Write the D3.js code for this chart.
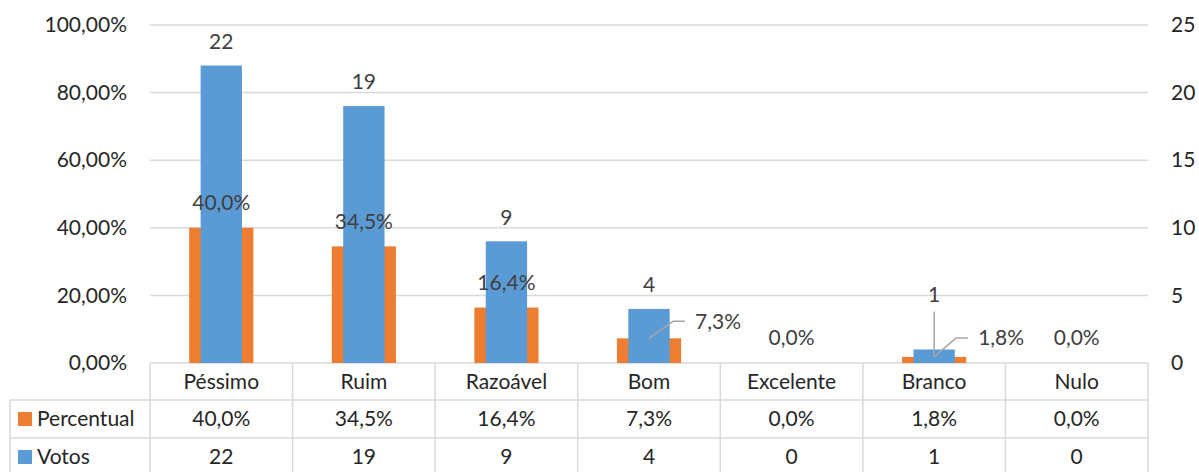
<!DOCTYPE html>
<html>
<head>
<meta charset="utf-8">
<script src="https://cdn.jsdelivr.net/npm/d3@7"></script>
<style>
  body { margin: 0; background: #fff; }
  text { font-family: Lato, "Open Sans", sans-serif; }
</style>
</head>
<body>
<div id="chart"></div>
<script>
// data
var categories = ['Péssimo', 'Ruim', 'Razoável', 'Bom', 'Excelente', 'Branco', 'Nulo'];
var percentual = [40.0, 34.5, 16.4, 7.3, 0.0, 1.8, 0.0];
var votos = [22, 19, 9, 4, 0, 1, 0];
var leftTicks = [0, 20, 40, 60, 80, 100];
var rightTicks = [0, 5, 10, 15, 20, 25];

var width = 1199, height = 472;
var margin = {top: 25, left: 150, right: 51, bottom: 109};
var plotRight = width - margin.right;
var plotBottom = height - margin.bottom;

var orange = '#ED7D31', blue = '#5B9BD5', grid = '#D9D9D9';
var fs = 21;

// label nudges for the small bars (Excel moved these with leader lines)
var pctLabelMove = {Bom: [46, -17], Branco: [44, -19]};
var votLabelMove = {Branco: [0, -31]};

var rows = categories.map(function(c, i) {
    return {cat: c, pct: percentual[i], vot: votos[i]};
});

var svg = d3.select('#chart').append('svg')
    .attr('width', width)
    .attr('height', height);

var x = d3.scaleBand().domain(categories).range([margin.left, plotRight]);
var yPct = d3.scaleLinear().domain([0, 100]).range([plotBottom, margin.top]);
var yVot = d3.scaleLinear().domain([0, 25]).range([plotBottom, margin.top]);

// gridlines
svg.append('g').selectAll('line').data(leftTicks).enter().append('line')
    .attr('x1', margin.left).attr('x2', plotRight)
    .attr('y1', function(d) { return yPct(d); })
    .attr('y2', function(d) { return yPct(d); })
    .attr('stroke', grid).attr('stroke-width', 1.5);

// left axis
var leftAxis = d3.axisLeft(yPct).tickValues(leftTicks).tickSize(0).tickPadding(0)
    .tickFormat(function(d) { return d3.format('.2f')(d).replace('.', ',') + '%'; });
var gL = svg.append('g').attr('transform', 'translate(127,0)').call(leftAxis);
gL.select('.domain').remove();
gL.selectAll('text').attr('font-size', fs).attr('fill', '#262626')
    .attr('font-family', 'Lato, sans-serif');

// right axis
var rightAxis = d3.axisRight(yVot).tickValues(rightTicks).tickSize(0).tickPadding(0);
var gR = svg.append('g').attr('transform', 'translate(1171,0)').call(rightAxis);
gR.select('.domain').remove();
gR.selectAll('text').attr('font-size', fs).attr('fill', '#262626')
    .attr('font-family', 'Lato, sans-serif');

var bw = x.bandwidth();
var oW = bw * 0.45, bW = bw * 0.29;
function mid(d) { return x(d.cat) + bw / 2; }

// percentual bars (behind)
svg.append('g').selectAll('rect').data(rows).enter().append('rect')
    .attr('x', function(d) { return mid(d) - oW / 2; })
    .attr('y', function(d) { return yPct(d.pct); })
    .attr('width', oW)
    .attr('height', function(d) { return plotBottom - yPct(d.pct); })
    .attr('fill', orange);

// votos bars
svg.append('g').selectAll('rect').data(rows).enter().append('rect')
    .attr('x', function(d) { return mid(d) - bW / 2; })
    .attr('y', function(d) { return yVot(d.vot); })
    .attr('width', bW)
    .attr('height', function(d) { return plotBottom - yVot(d.vot); })
    .attr('fill', blue);

// leader lines
var lead = svg.append('g').attr('stroke', '#A6A6A6').attr('stroke-width', 1.5).attr('fill', 'none');
rows.forEach(function(d) {
    var cx = mid(d);
    if (pctLabelMove[d.cat]) {
        var m = pctLabelMove[d.cat], y0 = yPct(d.pct);
        lead.append('path')
            .attr('d', 'M' + cx + ',' + y0 + 'L' + (cx + m[0] - 22) + ',' + (y0 + m[1]) +
                  'L' + (cx + m[0] - 10) + ',' + (y0 + m[1]));
    }
    if (votLabelMove[d.cat]) {
        var yv = yVot(d.vot);
        lead.append('line').attr('x1', cx).attr('x2', cx)
            .attr('y1', yv - 24 + votLabelMove[d.cat][1] + 17).attr('y2', yPct(d.pct));
    }
});

// percent labels
svg.append('g').selectAll('text').data(rows).enter().append('text')
    .attr('x', function(d) {
        var m = pctLabelMove[d.cat];
        return mid(d) + (m ? m[0] : 0);
    })
    .attr('y', function(d) {
        var m = pctLabelMove[d.cat];
        return m ? yPct(d.pct) + m[1] : yPct(d.pct) - 25;
    })
    .attr('dy', '0.35em')
    .attr('text-anchor', function(d) { return pctLabelMove[d.cat] ? 'start' : 'middle'; })
    .attr('font-size', fs).attr('fill', '#404040')
    .text(function(d) { return d.pct.toFixed(1).replace('.', ',') + '%'; });

// votos labels (zero values have none)
svg.append('g').selectAll('text').data(rows.filter(function(d) { return d.vot > 0; }))
    .enter().append('text')
    .attr('x', mid)
    .attr('y', function(d) {
        var m = votLabelMove[d.cat];
        return yVot(d.vot) - 24 + (m ? m[1] : 0);
    })
    .attr('dy', '0.35em')
    .attr('text-anchor', 'middle')
    .attr('font-size', fs).attr('fill', '#404040')
    .text(function(d) { return d.vot; });

// data table
var rowY = [plotBottom, 400, 438, 476];
var tbl = svg.append('g').attr('stroke', grid).attr('stroke-width', 1.5);
categories.concat(['end']).forEach(function(c) {
    var xx = c === 'end' ? plotRight : x(c);
    tbl.append('line').attr('x1', xx).attr('x2', xx).attr('y1', plotBottom).attr('y2', height);
});
tbl.append('line').attr('x1', 10).attr('x2', 10).attr('y1', rowY[1]).attr('y2', height);
[rowY[1], rowY[2]].forEach(function(yy) {
    tbl.append('line').attr('x1', 10).attr('x2', plotRight).attr('y1', yy).attr('y2', yy);
});

var tt = svg.append('g').attr('font-size', fs).attr('fill', '#262626').attr('text-anchor', 'middle');
rows.forEach(function(d) {
    var cx = mid(d);
    tt.append('text').attr('x', cx).attr('y', (rowY[0] + rowY[1]) / 2).attr('dy', '0.35em').text(d.cat);
    tt.append('text').attr('x', cx).attr('y', (rowY[1] + rowY[2]) / 2).attr('dy', '0.35em')
        .text(d.pct.toFixed(1).replace('.', ',') + '%');
    tt.append('text').attr('x', cx).attr('y', (rowY[2] + rowY[3]) / 2).attr('dy', '0.35em').text(d.vot);
});

// legend keys in table
var series = [{name: 'Percentual', color: orange}, {name: 'Votos', color: blue}];
series.forEach(function(s, k) {
    var cy = (rowY[k + 1] + rowY[k + 2]) / 2;
    svg.append('rect').attr('x', 18).attr('y', cy - 7).attr('width', 14).attr('height', 14).attr('fill', s.color);
    svg.append('text').attr('x', 37).attr('y', cy).attr('dy', '0.35em')
        .attr('font-size', fs).attr('fill', '#262626').text(s.name);
});
</script>
</body>
</html>
